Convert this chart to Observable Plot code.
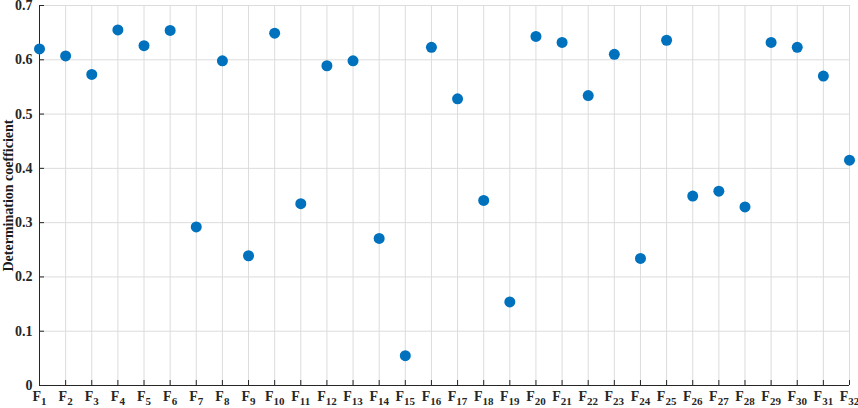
<!DOCTYPE html>
<html><head><meta charset="utf-8">
<script src="https://cdn.jsdelivr.net/npm/d3@7"></script>
<script src="https://cdn.jsdelivr.net/npm/@observablehq/plot@0.6"></script>
<style>
html,body{margin:0;padding:0;background:#fff;}
#chart svg{display:block;overflow:visible;}
</style></head>
<body><div id="chart"></div>
<script>
const features = d3.range(1, 33);
const values = [0.620, 0.607, 0.573, 0.655, 0.626, 0.654, 0.292, 0.598, 0.239, 0.649,
  0.335, 0.589, 0.598, 0.271, 0.055, 0.623, 0.528, 0.341, 0.154, 0.643,
  0.632, 0.534, 0.610, 0.234, 0.636, 0.349, 0.358, 0.329, 0.632, 0.623,
  0.570, 0.415];
const yTicks = [0, 0.1, 0.2, 0.3, 0.4, 0.5, 0.6, 0.7];
const yLabel = "Determination coefficient";
const data = features.map((f, i) => ({f, v: values[i]}));

const font = "'Liberation Serif', 'Times New Roman', serif";
const chart = Plot.plot({
  width: 858, height: 408,
  marginLeft: 39, marginRight: 9, marginTop: 5, marginBottom: 23,
  style: {fontFamily: font, fontWeight: "bold", fontSize: "14px", color: "#262626", background: "#fff"},
  x: {type: "linear", domain: [1, 32], label: null},
  y: {domain: [0, 0.7], label: null},
  marks: [
    Plot.gridX(features, {stroke: "#dcdcdc", strokeOpacity: 1}),
    Plot.gridY(yTicks, {stroke: "#dcdcdc", strokeOpacity: 1}),
    Plot.axisX(features, {tickSize: -5, tickPadding: 11, stroke: "#262626", fill: "#262626", tickFormat: d => "F" + d, label: null}),
    Plot.axisY(yTicks, {tickSize: -5, tickPadding: 12, stroke: "#262626", fill: "#262626", tickFormat: d => d === 0 ? "0" : d3.format(".1f")(d), label: null}),
    Plot.ruleY([0], {stroke: "#262626"}),
    Plot.ruleX([1], {stroke: "#262626"}),
    Plot.dot(data, {x: "f", y: "v", r: 5.5, fill: "#0072BD", stroke: null}),
    Plot.text([yLabel], {frameAnchor: "left", textAnchor: "middle", rotate: -90, dx: -31, text: d => d, fontSize: 14, fontWeight: "bold", fill: "#1a1a1a"})
  ]
});
document.getElementById("chart").appendChild(chart);
// subscripts on x tick labels
d3.select(chart).selectAll("g[aria-label='x-axis tick label'] text").each(function() {
  const t = this.textContent;
  const n = t.slice(1);
  const sel = d3.select(this);
  sel.text("F");
  sel.append("tspan").attr("dy", "0.35em").attr("font-size", "11px").text(n);
});
</script></body></html>
